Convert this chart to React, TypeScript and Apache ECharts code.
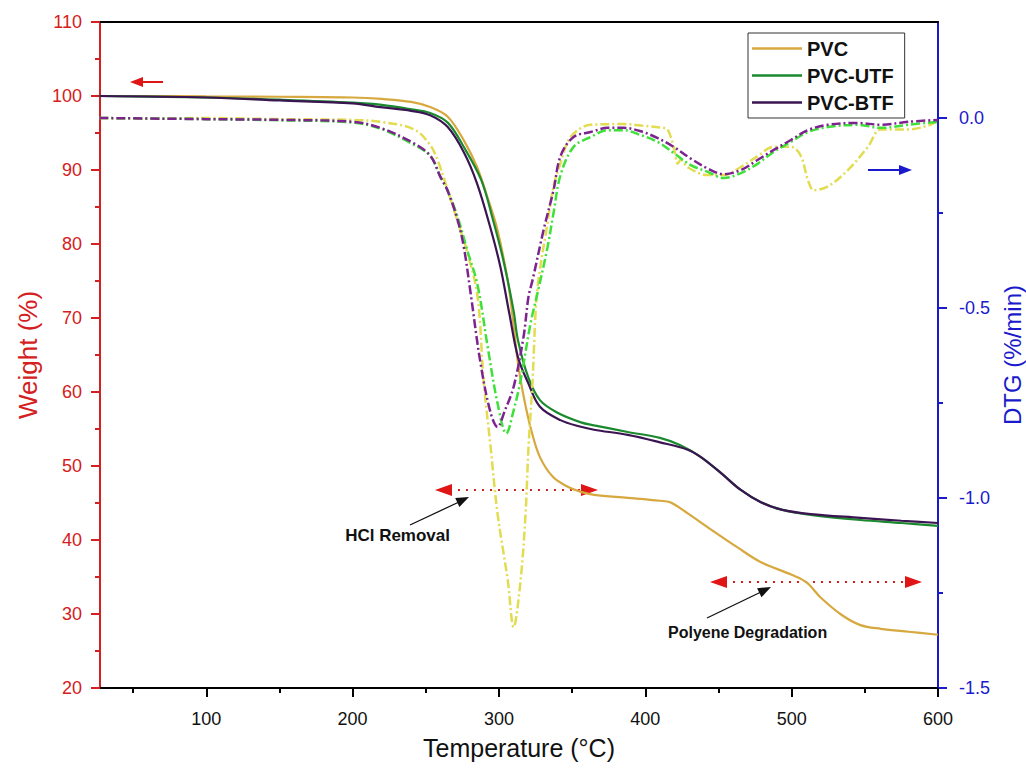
import React, { useEffect, useRef } from "react";
import * as echarts from "echarts";

// ---- Data ----
const tgPvcT = [27, 60, 100, 150, 200, 220, 240, 253, 265, 276, 285, 292, 299, 306, 309, 313, 317, 322, 328, 337, 347, 356, 365, 388, 410, 417, 429, 445, 463, 479, 500, 510, 520, 534, 547, 561, 580, 600];
const tgPvcW = [100, 100, 99.95, 99.9, 99.8, 99.6, 99.2, 98.5, 97.2, 94, 90.4, 86.4, 81.9, 75.1, 70.7, 63.9, 59.3, 54.9, 51.2, 48.5, 47.2, 46.5, 46.1, 45.7, 45.3, 45.1, 43.6, 41.4, 39, 37, 35.3, 34.3, 32.2, 29.9, 28.5, 28, 27.6, 27.2];

const tgUtfT = [27, 100, 150, 200, 220, 240, 253, 265, 276, 288, 296, 303, 310, 313, 320, 328, 340, 356, 365, 388, 410, 424, 438, 452, 465, 479, 493, 513, 547, 575, 600];
const tgUtfW = [100, 99.8, 99.5, 99.1, 98.8, 98.2, 97.7, 96.4, 93.1, 88.6, 83.2, 77.8, 71, 67, 62, 58.9, 57.2, 55.9, 55.5, 54.6, 53.8, 52.8, 51.2, 49, 46.8, 45.1, 44.1, 43.4, 42.7, 42.3, 41.9];

const tgBtfT = [27, 100, 150, 200, 219, 240, 253, 265, 276, 285, 294, 301, 307, 313, 320, 328, 342, 356, 365, 388, 410, 429, 438, 452, 465, 479, 493, 513, 547, 575, 600];
const tgBtfW = [100, 99.8, 99.4, 99.0, 98.5, 98.0, 97.4, 95.8, 92.4, 88.2, 82.3, 76.9, 70.7, 64.7, 61.2, 58, 56.2, 55.3, 54.9, 54.2, 53.2, 52.2, 51.2, 49, 46.8, 45.1, 44.1, 43.5, 43, 42.6, 42.3];

const dtgPvcT = [27, 60, 100, 150, 200, 219, 242, 253, 258, 265, 272, 278.5, 285.4, 289.5, 294.3, 299, 306, 310, 314.8, 318.2, 320.2, 323, 325, 327, 333.2, 337.3, 342.1, 349, 362.7, 385.2, 397, 412.6, 415.3, 419.4, 422.2, 424.2, 429, 442.7, 453.6, 465.3, 476.9, 487.8, 499.5, 506.3, 511.1, 515.2, 524.8, 538.4, 552.1, 561, 579.5, 593.2, 600];
const dtgPvcD = [0, -0.002, 0, -0.003, -0.005, -0.01, -0.03, -0.071, -0.11, -0.19, -0.276, -0.355, -0.47, -0.69, -0.866, -1.04, -1.216, -1.34, -1.216, -1.04, -0.866, -0.69, -0.513, -0.426, -0.276, -0.18, -0.118, -0.05, -0.018, -0.016, -0.02, -0.026, -0.03, -0.076, -0.12, -0.11, -0.13, -0.15, -0.15, -0.129, -0.1, -0.076, -0.076, -0.1, -0.163, -0.19, -0.18, -0.137, -0.076, -0.03, -0.03, -0.02, -0.008];

const dtgUtfT = [27, 100, 150, 200, 219, 241.6, 253.2, 260, 264.8, 271.7, 278.5, 285.4, 292.2, 299, 305, 310, 314.8, 321.6, 326.4, 333.2, 337.3, 342.1, 351, 362.7, 374.3, 385.2, 396.9, 408.5, 419.4, 431.1, 442.7, 453.6, 465.3, 476.9, 487.8, 499.5, 511.1, 524.8, 545.3, 561, 579.5, 600];
const dtgUtfD = [0, -0.003, -0.006, -0.012, -0.028, -0.07, -0.1, -0.155, -0.19, -0.26, -0.35, -0.44, -0.6, -0.75, -0.83, -0.77, -0.69, -0.54, -0.46, -0.34, -0.25, -0.15, -0.076, -0.05, -0.032, -0.032, -0.045, -0.063, -0.092, -0.124, -0.142, -0.158, -0.145, -0.12, -0.089, -0.063, -0.037, -0.024, -0.018, -0.026, -0.018, -0.01];

const dtgBtfT = [27, 100, 150, 200, 219, 241.6, 253.2, 260, 264.8, 271.7, 276, 280.6, 287.4, 294.3, 299, 304, 310, 316.8, 320.2, 323, 330.5, 337.3, 342.1, 351, 362.7, 374.3, 385.2, 396.9, 408.5, 419.4, 431.1, 442.7, 453.6, 465.3, 476.9, 487.8, 499.5, 511.1, 524.8, 545.3, 561, 579.5, 600];
const dtgBtfD = [0, -0.003, -0.005, -0.01, -0.026, -0.066, -0.1, -0.155, -0.19, -0.268, -0.34, -0.46, -0.645, -0.776, -0.813, -0.77, -0.708, -0.576, -0.47, -0.426, -0.295, -0.19, -0.1, -0.05, -0.037, -0.026, -0.026, -0.035, -0.053, -0.076, -0.107, -0.133, -0.148, -0.137, -0.11, -0.084, -0.058, -0.032, -0.018, -0.013, -0.018, -0.01, -0.005];

const xMajorTicks = [100, 200, 300, 400, 500, 600];
const xMinorTicks = [50, 150, 250, 350, 450, 550];
const rightMajorTicks = [-1.5, -1.0, -0.5, 0.0];
const rightMinorTicks = [-1.25, -0.75, -0.25];

const FONT = 'Arial, "Liberation Sans", sans-serif';
const RED = "#D42020";
const BLUE = "#1A1ACC";

const zip = (a: number[], b: number[]) => a.map((x, i) => [x, b[i]]);

export default function App() {
  const ref = useRef<HTMLDivElement>(null);
  useEffect(() => {
    const chart = echarts.init(ref.current!, null, { renderer: "svg" });
    const tgLine = (name: string, color: string, t: number[], w: number[]) => ({
      name,
      type: "line",
      xAxisIndex: 0,
      yAxisIndex: 0,
      data: zip(t, w),
      smooth: 0.35,
      symbol: "none",
      lineStyle: { color, width: 2.2 },
      itemStyle: { color },
      z: 2,
    });
    const dtgLine = (name: string, color: string, t: number[], d: number[]) => ({
      name,
      type: "line",
      xAxisIndex: 0,
      yAxisIndex: 1,
      data: zip(t, d),
      smooth: 0.35,
      symbol: "none",
      lineStyle: { color, width: 2.5, type: [9, 3, 2, 3] },
      itemStyle: { color },
      z: 3,
    });
    const option: any = {
      animation: false,
      backgroundColor: "#ffffff",
      textStyle: { fontFamily: FONT },
      grid: { left: 100, right: 88, top: 22, bottom: 80, outerBoundsMode: "none", containLabel: false },
      legend: {
        data: ["PVC", "PVC-UTF", "PVC-BTF"],
        orient: "vertical",
        left: 748,
        top: 33,
        icon: "rect",
        itemWidth: 50,
        itemHeight: 2.5,
        itemGap: 6,
        borderColor: "#333",
        borderWidth: 1,
        padding: [5, 11, 5, 4],
        textStyle: { fontSize: 20, lineHeight: 21, fontWeight: "bold", color: "#111", fontFamily: FONT },
      },
      xAxis: [
        {
          type: "value",
          min: 27.4,
          max: 600,
          position: "bottom",
          name: "Temperature (°C)",
          nameLocation: "middle",
          nameGap: 47,
          nameTextStyle: { fontSize: 25, color: "#111", fontFamily: FONT },
          axisLine: { onZero: false, lineStyle: { color: "#000", width: 2 } },
          axisTick: { customValues: xMajorTicks, length: 9, lineStyle: { color: "#000", width: 2 } },
          axisLabel: { customValues: xMajorTicks, color: "#111", fontSize: 18, margin: 22, fontFamily: FONT },
          splitLine: { show: false },
        },
        {
          type: "value",
          min: 27.4,
          max: 600,
          position: "bottom",
          axisLine: { show: false, onZero: false },
          axisTick: { customValues: xMinorTicks, length: 5, lineStyle: { color: "#000", width: 2 } },
          axisLabel: { show: false },
          splitLine: { show: false },
        },
        {
          type: "value",
          min: 27.4,
          max: 600,
          position: "top",
          axisLine: { onZero: false, lineStyle: { color: "#000", width: 2 } },
          axisTick: { show: false },
          axisLabel: { show: false },
          splitLine: { show: false },
        },
      ],
      yAxis: [
        {
          type: "value",
          min: 20,
          max: 110,
          interval: 10,
          position: "left",
          name: "Weight (%)",
          nameLocation: "middle",
          nameGap: 57,
          nameTextStyle: { fontSize: 26, color: RED, fontFamily: FONT },
          axisLine: { onZero: false, lineStyle: { color: RED, width: 2 } },
          axisTick: { length: 9, lineStyle: { color: RED, width: 2 } },
          minorTick: { show: true, splitNumber: 2, length: 5, lineStyle: { color: RED, width: 2 } },
          axisLabel: { color: RED, fontSize: 18, margin: 18, fontFamily: FONT },
          splitLine: { show: false },
          minorSplitLine: { show: false },
        },
        {
          type: "value",
          min: -1.5,
          max: 0.2526,
          position: "right",
          name: "DTG (%/min)",
          nameLocation: "middle",
          nameGap: 58,
          nameTextStyle: { fontSize: 24, color: BLUE, fontFamily: FONT },
          axisLine: { onZero: false, lineStyle: { color: BLUE, width: 2 } },
          axisTick: { customValues: rightMajorTicks, length: 9, lineStyle: { color: BLUE, width: 2 } },
          axisLabel: {
            customValues: rightMajorTicks,
            color: BLUE,
            fontSize: 18,
            margin: 21,
            fontFamily: FONT,
            formatter: (v: number) => v.toFixed(1),
          },
          splitLine: { show: false },
        },
        {
          type: "value",
          min: -1.5,
          max: 0.2526,
          position: "right",
          axisLine: { show: false, onZero: false },
          axisTick: { customValues: rightMinorTicks, length: 5, lineStyle: { color: BLUE, width: 2 } },
          axisLabel: { show: false },
          splitLine: { show: false },
        },
      ],
      series: [
        tgLine("PVC", "#D6A83E", tgPvcT, tgPvcW),
        tgLine("PVC-UTF", "#1B8A2E", tgUtfT, tgUtfW),
        tgLine("PVC-BTF", "#3B1452", tgBtfT, tgBtfW),
        dtgLine("PVC DTG", "#E2DC50", dtgPvcT, dtgPvcD),
        dtgLine("PVC-UTF DTG", "#3FE03A", dtgUtfT, dtgUtfD),
        dtgLine("PVC-BTF DTG", "#7D2390", dtgBtfT, dtgBtfD),
      ],
      graphic: [
        // left-pointing red arrow (weight axis)
        { type: "line", shape: { x1: 163, y1: 82, x2: 140, y2: 82 }, style: { stroke: "#E01515", lineWidth: 2 } },
        { type: "polygon", shape: { points: [[130, 82], [143, 77], [143, 87]] }, style: { fill: "#E01515" } },
        // right-pointing blue arrow (DTG axis)
        { type: "line", shape: { x1: 868, y1: 170, x2: 900, y2: 170 }, style: { stroke: BLUE, lineWidth: 2 } },
        { type: "polygon", shape: { points: [[912, 170], [899, 165], [899, 175]] }, style: { fill: BLUE } },
        // HCl removal dotted double arrow
        { type: "line", shape: { x1: 450, y1: 490, x2: 584, y2: 490 }, style: { stroke: "#D02020", lineWidth: 2, lineDash: [2, 6] } },
        { type: "polygon", shape: { points: [[435, 490], [452, 484], [452, 496]] }, style: { fill: "#E01515" } },
        { type: "polygon", shape: { points: [[598, 490], [581, 484], [581, 496]] }, style: { fill: "#E01515" } },
        // Polyene dotted double arrow
        { type: "line", shape: { x1: 725, y1: 582, x2: 908, y2: 582 }, style: { stroke: "#D02020", lineWidth: 2, lineDash: [2, 6] } },
        { type: "polygon", shape: { points: [[710, 582], [727, 576], [727, 588]] }, style: { fill: "#E01515" } },
        { type: "polygon", shape: { points: [[922, 582], [905, 576], [905, 588]] }, style: { fill: "#E01515" } },
        // HCl black pointer
        { type: "line", shape: { x1: 410, y1: 525, x2: 459, y2: 502 }, style: { stroke: "#111", lineWidth: 1.3 } },
        { type: "polygon", shape: { points: [[469, 497], [459.4, 507.1], [455.2, 498.1]] }, style: { fill: "#111" } },
        // Polyene black pointer
        { type: "line", shape: { x1: 707, y1: 618, x2: 761, y2: 592 }, style: { stroke: "#111", lineWidth: 1.3 } },
        { type: "polygon", shape: { points: [[771, 587], [761.5, 597.2], [757.1, 588.2]] }, style: { fill: "#111" } },
        // Labels
        {
          type: "text",
          x: 450,
          y: 535,
          style: { text: "HCl Removal", fill: "#111", font: `bold 17px ${FONT}`, textAlign: "right", textVerticalAlign: "middle" },
        },
        {
          type: "text",
          x: 668,
          y: 632,
          style: { text: "Polyene Degradation", fill: "#111", font: `bold 16px ${FONT}`, textAlign: "left", textVerticalAlign: "middle" },
        },
      ],
    };
    chart.setOption(option);
    return () => chart.dispose();
  }, []);
  return (
    <div
      ref={ref}
      style={{ position: "fixed", left: 0, top: 0, width: 1026, height: 768, background: "#fff" }}
    />
  );
}
